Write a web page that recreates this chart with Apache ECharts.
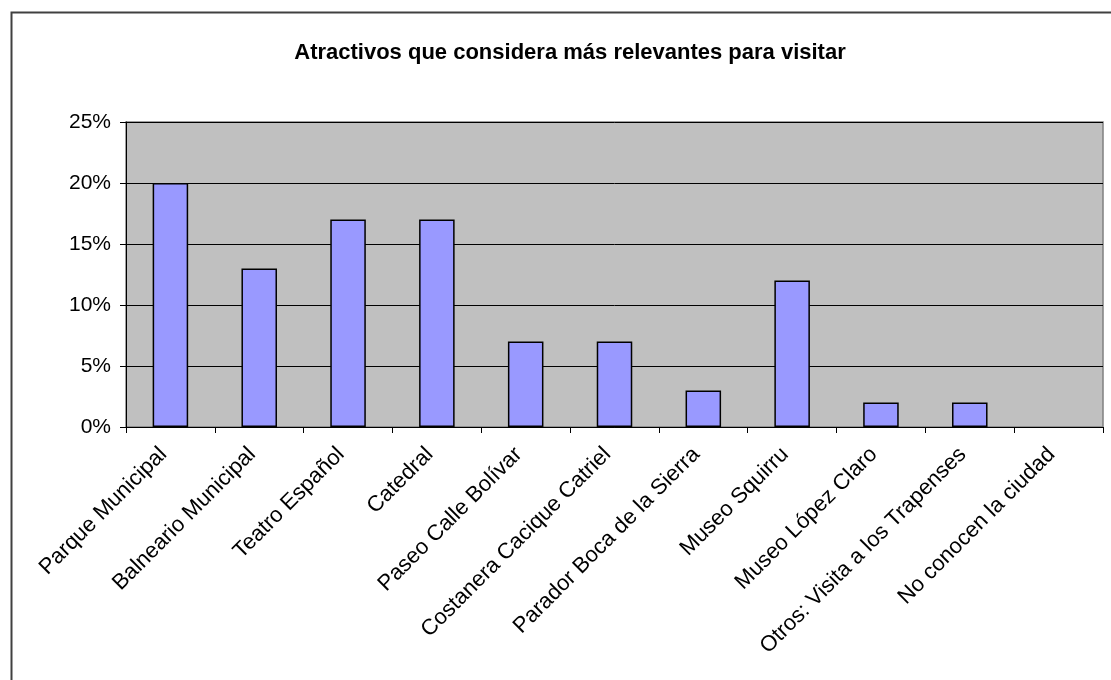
<!DOCTYPE html>
<html><head><meta charset="utf-8">
<script src="https://cdn.jsdelivr.net/npm/echarts@6/dist/echarts.min.js"></script>
<style>html,body{margin:0;padding:0;background:#fff}#c{width:1111px;height:680px}</style>
</head><body><div id="c"></div>
<script>
const titleText = 'Atractivos que considera más relevantes para visitar';
const categories = ['Parque Municipal','Balneario Municipal','Teatro Español','Catedral','Paseo Calle Bolívar','Costanera Cacique Catriel','Parador Boca de la Sierra','Museo Squirru','Museo López Claro','Otros: Visita a los Trapenses','No conocen la ciudad'];
const values = [20,13,17,17,7,7,3,12,2,2,0];
const yTicks = [0,5,10,15,20,25];

const chart = echarts.init(document.getElementById('c'), null, {renderer:'canvas'});
chart.setOption({
  backgroundColor:'#fff',
  animation:false,
  title:{text:titleText,left:565,textAlign:'center',top:37,textStyle:{fontFamily:'Liberation Sans, Arial',fontSize:22,fontWeight:'bold',color:'#000'}},
  graphic:[{type:'rect',shape:{x:11.5,y:12.5,width:1110,height:680},style:{fill:'none',stroke:'#404040',lineWidth:2},z:100}],
  grid:{left:126,top:122,width:977,height:305,show:true,backgroundColor:'#c0c0c0',borderColor:'#808080',borderWidth:1.5},
  xAxis:{type:'category',data:categories,boundaryGap:true,
    axisLine:{lineStyle:{color:'#000',width:1}},
    axisTick:{show:true,alignWithLabel:false,length:6,lineStyle:{color:'#000'}},
    axisLabel:{interval:0,rotate:45,fontFamily:'Liberation Sans, Arial',fontSize:22,color:'#000',margin:17,padding:[0,10,0,0]}},
  yAxis:{type:'value',min:yTicks[0],max:yTicks[yTicks.length-1],interval:5,
    axisLine:{show:true,lineStyle:{color:'#000',width:1}},
    axisTick:{show:true,length:6,lineStyle:{color:'#000'}},
    splitLine:{lineStyle:{color:'#000',width:1}},
    axisLabel:{formatter:v=>v+'%',fontFamily:'Liberation Sans, Arial',fontSize:21,color:'#000',margin:15}},
  series:[{type:'bar',data:values.map(v=>v===0?{value:v,itemStyle:{borderWidth:0}}:v),barWidth:'40%',itemStyle:{color:'#9999ff',borderColor:'#000',borderWidth:1.5}}]
});
</script></body></html>
